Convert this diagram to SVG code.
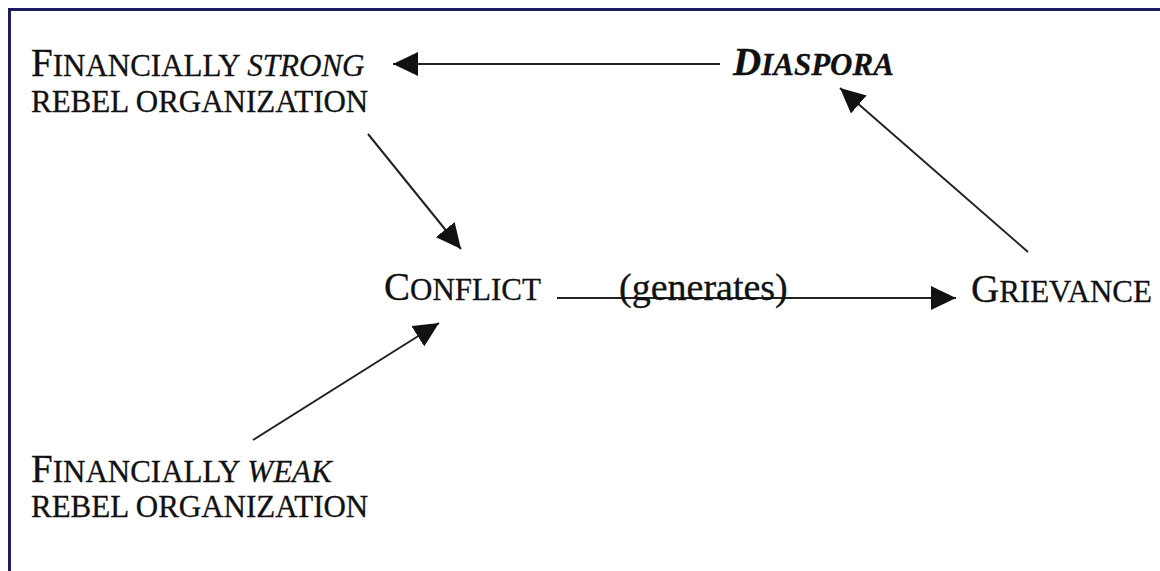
<svg xmlns="http://www.w3.org/2000/svg" width="1160" height="571" viewBox="0 0 1160 571">
<defs>
<style>
text{font-family:"Liberation Serif","Times New Roman",serif;fill:#111;font-size:31px;stroke:#111;stroke-width:0.3}
.big{font-size:39px}
.it{font-style:italic}
.bi{font-style:italic;font-weight:bold}
.lbl{font-size:38px}
.edge{stroke:#222;stroke-width:2;fill:none;marker-end:url(#ah)}
</style>
<marker id="ah" markerUnits="userSpaceOnUse" markerWidth="26" markerHeight="24" refX="25" refY="12" orient="auto" viewBox="0 0 26 24">
<path d="M0,0 L25,12 L0,24 Z" fill="#111"/>
</marker>
</defs>
<rect width="1160" height="571" fill="#fff"/>
<g id="frame">
<line x1="8" y1="9.5" x2="1160" y2="9.5" stroke="#1c1c5e" stroke-width="3"/>
<line x1="9.5" y1="8" x2="9.5" y2="571" stroke="#1c1c5e" stroke-width="3"/>
</g>
<g id="connectors">
<line class="edge" x1="720" y1="64" x2="393" y2="64"/>
<line class="edge" x1="368" y1="134" x2="461" y2="249"/>
<line class="edge" x1="253" y1="440" x2="439" y2="323"/>
<line class="edge" x1="1028" y1="252" x2="840" y2="88"/>
<line class="edge" x1="557" y1="298" x2="956" y2="298"/>
</g>
<g id="strong">
<text x="31" y="76"><tspan class="big">F</tspan>INANCIALLY <tspan class="it">STRONG</tspan></text>
<text x="31" y="112">REBEL ORGANIZATION</text>
</g>
<g id="diaspora">
<text x="733" y="75" class="bi"><tspan class="big">D</tspan>IASPORA</text>
</g>
<g id="conflict">
<text x="384" y="300"><tspan class="big">C</tspan>ONFLICT</text>
</g>
<g id="generates">
<text x="619" y="300" class="lbl">(generates)</text>
</g>
<g id="grievance">
<text x="971" y="302"><tspan class="big">G</tspan>RIEVANCE</text>
</g>
<g id="weak">
<text x="31" y="482"><tspan class="big">F</tspan>INANCIALLY <tspan class="it">WEAK</tspan></text>
<text x="31" y="517">REBEL ORGANIZATION</text>
</g>
</svg>
